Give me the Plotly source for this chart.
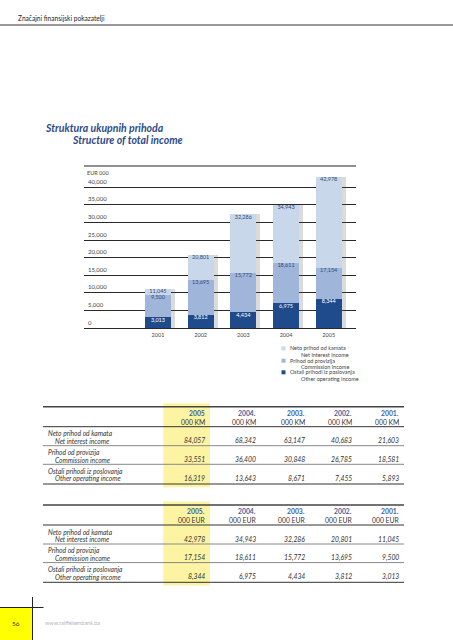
import plotly.graph_objects as go

# ---------------- data ----------------
years = [2001, 2002, 2003, 2004, 2005]
year_labels = ["2001", "2002", "2003", "2004", "2005"]
net_interest_eur = [11045, 20801, 32286, 34943, 42978]
commission_eur = [9500, 13695, 15772, 18611, 17154]
other_operating_eur = [3013, 3812, 4434, 6975, 8344]
y_tick_values = [0, 5000, 10000, 15000, 20000, 25000, 30000, 35000, 40000]
y_tick_labels = ["0", "5,000", "10,000", "15,000", "20,000", "25,000", "30,000", "35,000", "40,000"]
series_local = ["Neto prihod od kamata", "Prihod od provizija", "Ostali prihodi iz poslovanja"]
series_english = ["Net interest income", "Commission income", "Other operating income"]

km_years = ["2005", "2004.", "2003.", "2002.", "2001."]
km_net_interest = [84057, 68342, 63147, 40683, 21603]
km_commission = [33551, 36400, 30848, 26785, 18581]
km_other_operating = [16319, 13643, 8671, 7455, 5893]
eur_years = ["2005.", "2004.", "2003.", "2002.", "2001."]
eur_net_interest = [42978, 34943, 32286, 20801, 11045]
eur_commission = [17154, 18611, 15772, 13695, 9500]
eur_other_operating = [8344, 6975, 4434, 3812, 3013]

# ---------------- styles ----------------
W, H = 453, 640
FONT = "Lato"
colors = ["#c8d8ea", "#9fb5da", "#1f4a8c"]
label_colors = ["#34497a", "#34497a", "#ffffff"]
blue_title = "#2d4a8a"
year_blue = "#3f5f9c"
text_grey = "#333333"
bar_width = 0.61


def px(x):
    return x / W


def py(y):
    return 1 - y / H


fig = go.Figure()

# bar shadows
fig.add_trace(go.Bar(
    x=years, y=net_interest_eur, width=bar_width, offset=-bar_width / 2 + 0.09,
    marker=dict(color="rgba(90,90,90,0.22)", line=dict(width=0)),
    showlegend=False, hoverinfo="skip"))

series = [net_interest_eur, commission_eur, other_operating_eur]
for vals, col, n1, n2 in zip(series, colors, series_local, series_english):
    fig.add_trace(go.Bar(
        x=years, y=vals, width=bar_width, offset=-bar_width / 2,
        marker=dict(color=col, line=dict(width=0)),
        name=f"{n1} / {n2}", showlegend=False))

for vals, tcol in zip(series, label_colors):
    fig.add_trace(go.Scatter(
        x=years, y=vals, mode="text", text=[f"{v:,}" for v in vals],
        textposition="bottom center",
        textfont=dict(family=FONT, size=5.5, color=tcol),
        showlegend=False, hoverinfo="skip"))

shapes = []
annotations = []

# header
annotations.append(dict(x=px(15.5), y=py(18), xref="paper", yref="paper", xanchor="left", yanchor="middle",
                        text="Značajni finansijski pokazatelji", showarrow=False,
                        font=dict(family=FONT, size=6.6, color="#222")))
shapes.append(dict(type="line", xref="paper", yref="paper", x0=0, x1=1, y0=py(25), y1=py(25),
                   line=dict(color="#777", width=1.5)))

# title
annotations.append(dict(x=px(42.5), y=py(128), xref="paper", yref="paper", xanchor="left", yanchor="middle",
                        text="<b><i>Struktura ukupnih prihoda</i></b>", showarrow=False,
                        font=dict(family=FONT, size=10.5, color=blue_title)))
annotations.append(dict(x=px(69.5), y=py(139.5), xref="paper", yref="paper", xanchor="left", yanchor="middle",
                        text="<b><i>Structure of total income</i></b>", showarrow=False,
                        font=dict(family=FONT, size=10.5, color=blue_title)))

# chart frame top line and unit label
shapes.append(dict(type="line", xref="paper", yref="paper", x0=px(84), x1=px(356), y0=py(166), y1=py(166),
                   line=dict(color="#222", width=1)))
annotations.append(dict(x=px(85), y=py(172.5), xref="paper", yref="paper", xanchor="left", yanchor="middle",
                        text="EUR 000", showarrow=False, font=dict(family=FONT, size=5.5, color="#444")))

# y tick labels above grid lines
for v, lab in zip(y_tick_values, y_tick_labels):
    annotations.append(dict(x=px(85.5), y=v, xref="paper", yref="y", xanchor="left", yanchor="bottom",
                            text=lab, showarrow=False, yshift=0.5,
                            font=dict(family=FONT, size=6, color="#444")))

# legend (drawn manually to match compact layout)
legend_rows = [348.3, 360.7, 372.3]
for col, n1, n2, yy in zip(colors, series_local, series_english, legend_rows):
    shapes.append(dict(type="rect", xref="paper", yref="paper", x0=px(281.5), x1=px(285.5),
                       y0=py(yy + 2), y1=py(yy - 2), fillcolor=col, line=dict(width=0)))
    annotations.append(dict(x=px(287.5), y=py(yy), xref="paper", yref="paper", xanchor="left",
                            yanchor="middle", text=n1, showarrow=False,
                            font=dict(family=FONT, size=5.5, color="#444")))
    annotations.append(dict(x=px(299), y=py(yy + 6.5), xref="paper", yref="paper", xanchor="left",
                            yanchor="middle", text=n2, showarrow=False,
                            font=dict(family=FONT, size=5.5, color="#444")))

# tables
col_right = [206.7, 258.3, 307.3, 354.3, 401]
row_pairs = list(zip(series_local, series_english))


def add_table(y0, head_years, unit, rows_vals):
    shapes.append(dict(type="rect", xref="paper", yref="paper", x0=px(163.3), x1=px(210),
                       y0=py(y0 - 3.5), y1=py(y0 + 80.5), fillcolor="#fcf4a3", line=dict(width=0),
                       layer="below"))
    shapes.append(dict(type="line", xref="paper", yref="paper", x0=px(43), x1=px(404),
                       y0=py(y0), y1=py(y0), line=dict(color="#444", width=1.5)))
    shapes.append(dict(type="line", xref="paper", yref="paper", x0=px(43), x1=px(404),
                       y0=py(y0 + 20), y1=py(y0 + 20), line=dict(color="#333", width=1)))
    for off in [39, 57.6]:
        shapes.append(dict(type="line", xref="paper", yref="paper", x0=px(43), x1=px(404),
                           y0=py(y0 + off), y1=py(y0 + off), line=dict(color="#888", width=1)))
    shapes.append(dict(type="line", xref="paper", yref="paper", x0=px(43), x1=px(404),
                       y0=py(y0 + 77.3), y1=py(y0 + 77.3), line=dict(color="#333", width=1)))
    for xr, yr in zip(col_right, head_years):
        annotations.append(dict(x=px(xr), y=py(y0 + 6), xref="paper", yref="paper", xanchor="right",
                                yanchor="middle", text=f"<b>{yr}</b>", showarrow=False,
                                font=dict(family=FONT, size=6.8, color=year_blue)))
        annotations.append(dict(x=px(xr), y=py(y0 + 15), xref="paper", yref="paper", xanchor="right",
                                yanchor="middle", text=unit, showarrow=False,
                                font=dict(family=FONT, size=6.8, color=text_grey)))
    for i, ((l1, l2), vals) in enumerate(zip(row_pairs, rows_vals)):
        base = y0 + 26.6 + i * 18.8
        annotations.append(dict(x=px(45.5), y=py(base), xref="paper", yref="paper", xanchor="left",
                                yanchor="middle", text=f"<i>{l1}</i>", showarrow=False,
                                font=dict(family=FONT, size=6.7, color=text_grey)))
        annotations.append(dict(x=px(52.5), y=py(base + 7.5), xref="paper", yref="paper", xanchor="left",
                                yanchor="middle", text=f"<i>{l2}</i>", showarrow=False,
                                font=dict(family=FONT, size=6.7, color=text_grey)))
        for xr, v in zip(col_right, vals):
            annotations.append(dict(x=px(xr), y=py(base + 7.5), xref="paper", yref="paper", xanchor="right",
                                    yanchor="middle", text=f"<i>{v:,}</i>", showarrow=False,
                                    font=dict(family=FONT, size=6.8, color=text_grey)))


add_table(406.7, km_years, "000 KM", [km_net_interest, km_commission, km_other_operating])
add_table(505.0, eur_years, "000 EUR", [eur_net_interest, eur_commission, eur_other_operating])

# footer
shapes.append(dict(type="rect", xref="paper", yref="paper", x0=0, x1=px(32.5), y0=0, y1=py(608),
                   fillcolor="#ffff00", line=dict(width=0)))
shapes.append(dict(type="line", xref="paper", yref="paper", x0=px(32.5), x1=px(32.5), y0=0, y1=py(597),
                   line=dict(color="#222", width=1)))
shapes.append(dict(type="line", xref="paper", yref="paper", x0=0, x1=px(43.5), y0=py(607.5), y1=py(607.5),
                   line=dict(color="#222", width=1)))
annotations.append(dict(x=px(16.3), y=py(623), xref="paper", yref="paper", xanchor="center", yanchor="middle",
                        text="56", showarrow=False, font=dict(family=FONT, size=6.5, color="#333")))
annotations.append(dict(x=px(43), y=py(623), xref="paper", yref="paper", xanchor="left", yanchor="middle",
                        text="www.raiffeisenbank.ba", showarrow=False, font=dict(family=FONT, size=5.5, color="#b5b5b5")))

y_top = 40000 * (328 - 166) / (328 - 187.3)
fig.update_layout(
    width=W, height=H, margin=dict(l=0, r=0, t=0, b=0),
    paper_bgcolor="white", plot_bgcolor="white",
    barmode="overlay", bargap=0, showlegend=False,
    font=dict(family=FONT, color="#333"),
    xaxis=dict(domain=[px(84), px(356)], range=[2001 - 74 / 42.7, 2005 + 27.3 / 42.7],
               tickmode="array", tickvals=years, ticktext=year_labels, showgrid=False, zeroline=False,
               showline=False, ticks="", tickfont=dict(family=FONT, size=5.5, color="#444"),
               ticklabelstandoff=2, fixedrange=True),
    yaxis=dict(domain=[py(328), py(166)], range=[0, y_top], tickmode="array", tickvals=y_tick_values,
               showticklabels=False, showgrid=True, gridcolor="#2a2a2a", gridwidth=1,
               zeroline=True, zerolinecolor="#2a2a2a", zerolinewidth=1, showline=False, ticks="",
               fixedrange=True),
    shapes=shapes, annotations=annotations,
)

fig.write_html("out.html", config={"displayModeBar": False},
               post_script="document.body.style.margin='0';document.body.style.overflow='hidden';")
